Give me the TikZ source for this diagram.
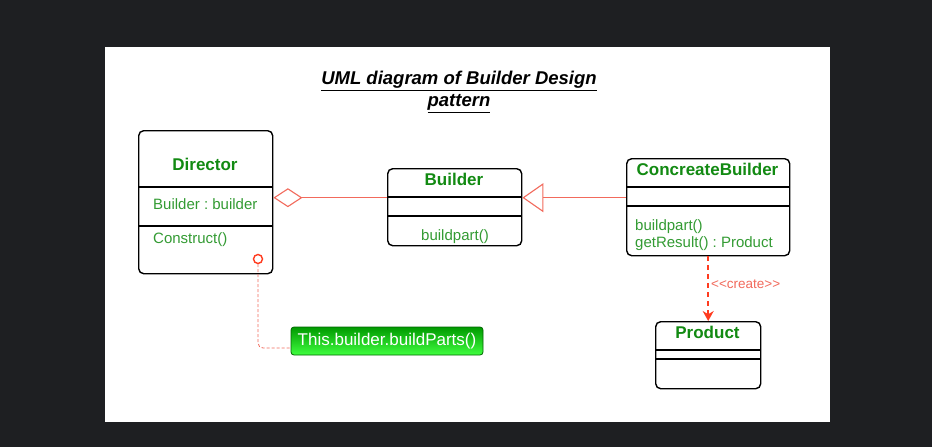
\documentclass[tikz,border=0pt]{standalone}
\usepackage{fontspec}
\setmainfont{Liberation Sans}
\usetikzlibrary{arrows.meta,positioning,calc}
\frenchspacing

\definecolor{bgdark}{HTML}{1E1F22}
\definecolor{titlegreen}{HTML}{128A12}
\definecolor{membergreen}{HTML}{339B33}
\definecolor{linkred}{HTML}{F26A5C}
\definecolor{createred}{HTML}{FF3B1F}

\tikzset{
  classbox/.style={draw, rounded corners=5pt, line width=1.4pt, fill=white, anchor=north west, inner sep=0pt},
  sepline/.style={line width=1.4pt},
  classname/.style={font=\fontsize{17}{20}\selectfont\bfseries, text=titlegreen, inner sep=0pt},
  member/.style={font=\fontsize{15}{17}\selectfont, text=membergreen, inner sep=0pt},
  relline/.style={draw=linkred, line width=1.1pt},
}

\begin{document}
\begin{tikzpicture}[x=1pt, y=-1pt]
  \useasboundingbox (0,0) rectangle (932,447);
  \fill[bgdark] (0,0) rectangle (932,447);
  \fill[white] (105,47) rectangle (830,422);

  % Title
  \node[align=center, font=\fontsize{18.5}{22}\selectfont\bfseries\itshape] (title) at (459,92)
    {\underline{UML diagram of Builder Design}\\\underline{pattern}};

  % Class boxes
  \foreach \name/\x/\y/\w/\h in {director/138/130/134/143, builder/387/168/134/77,
                                 cbuilder/626/158/163/97, product/655/321/105/67} {
    \node[classbox, minimum width=\w pt, minimum height=\h pt] (\name) at (\x,\y) {};
  }

  % Compartment lines
  \foreach \cls/\ya/\yb in {director/187/226, builder/197/216, cbuilder/187/206, product/350/359} {
    \draw[sepline] (\cls.west |- 0,\ya) -- (\cls.east |- 0,\ya);
    \draw[sepline] (\cls.west |- 0,\yb) -- (\cls.east |- 0,\yb);
  }

  % Class names
  \node[classname] (directorname) at (205,164) {Director};
  \node[classname] (buildername) at (454,179) {Builder};
  \node[classname] (cbuildername) at (707.5,169) {ConcreateBuilder};
  \node[classname] (productname) at (707.5,332) {Product};

  % Members
  \node[member, anchor=west] (dirattr) at (153,204) {Builder : builder};
  \node[member, anchor=west] (dirop) at (153,240) {Construct()};
  \node[member] (builderop) at (455,237) {buildpart()};
  \node[member, anchor=west] (cbop1) at (635,227) {buildpart()};
  \node[member, anchor=west] (cbop2) at (635,244) {getResult() : Product};

  % Aggregation and generalization
  \draw[relline, {Diamond[open, length=29pt, width=19pt]}-]
    ([yshift=9.5pt]director.east |- builder.west) coordinate (aggend) -- ([yshift=9.5pt]builder.west);
  \draw[relline, -{Triangle[open, length=21pt, width=29pt]}]
    ([yshift=9.5pt]cbuilder.west) -- ([yshift=9.5pt]builder.east);

  % Create dependency
  \draw[createred, line width=1.6pt, dash pattern=on 5pt off 4pt, -{Stealth[length=10pt, width=11pt]}]
    (cbuilder.south -| product.north) -- (product.north);
  \node[anchor=west, inner sep=0pt, text=linkred, font=\fontsize{13.5}{16}\selectfont] (createlbl) at (711,284) {<{}<create>{}>};

  % Note
  \node[draw=green!40!black, line width=0.8pt, rounded corners=3pt, top color=green!60!black, bottom color=green!75!white,
        text=white, font=\fontsize{17}{20}\selectfont, minimum width=192pt, minimum height=28pt, inner sep=2pt]
    (note) at (387,341) {This.builder.buildParts()};
  \node[circle, draw=createred, line width=1.4pt, fill=white, minimum size=9pt, inner sep=0pt] (noteanchor) at (258,259) {};
  \draw[linkred, line width=0.8pt, dash pattern=on 3pt off 2pt, rounded corners=5pt]
    (noteanchor.south) |- ([yshift=-7pt]note.west);
\end{tikzpicture}
\end{document}
